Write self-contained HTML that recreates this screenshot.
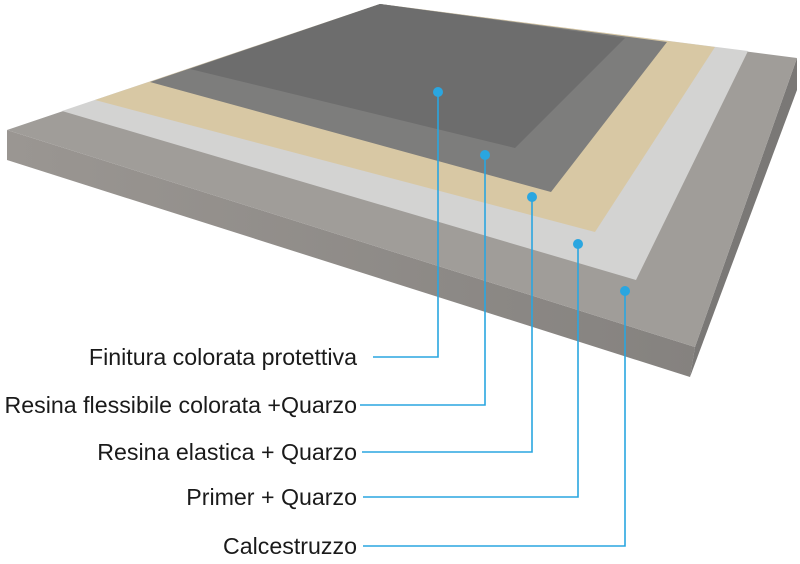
<!DOCTYPE html>
<html><head><style>
body{margin:0;background:#fff;width:800px;height:564px;overflow:hidden;position:relative;font-family:"Liberation Sans",Arial,sans-serif}
.l{position:absolute;right:443px;font-size:23.2px;color:#1a1a1a;white-space:nowrap;line-height:26px}
</style></head><body>
<svg width="800" height="564" style="position:absolute;left:0;top:0">
<defs>
<linearGradient id="fr" x1="0" y1="0" x2="1" y2="0"><stop offset="0" stop-color="#9a9692"/><stop offset="1" stop-color="#85827f"/></linearGradient>
</defs>
<polygon points="7,130 695,347 690,377 7,160" fill="url(#fr)"/>
<polygon points="695,347 797,58 797,90 690,377" fill="#7a7876"/>
<polygon points="7,130 380,4 797,58 695,347" fill="#a09d99"/>
<polygon points="62,111 380,4 748,51 636,280" fill="#d3d3d2"/>
<polygon points="95,100 380,4 715,47 595,232" fill="#d8c8a4"/>
<polygon points="150,82 380,4 667,42 551,192" fill="#7d7d7c"/>
<polygon points="190,69 380,4 625,38 515,148" fill="#6d6d6d"/>
<g stroke="#2aa6e0" stroke-width="1.6" fill="none">
<polyline points="438,92 438,357 373,357"/>
<polyline points="485,155 485,405 360,405"/>
<polyline points="532,197 532,452 362,452"/>
<polyline points="578,244 578,497 363,497"/>
<polyline points="625,291 625,546 363,546"/>
</g>
<g fill="#2aa6e0">
<circle cx="438" cy="92" r="5"/><circle cx="485" cy="155" r="5"/><circle cx="532" cy="197" r="5"/><circle cx="578" cy="244" r="5"/><circle cx="625" cy="291" r="5"/>
</g>
</svg>
<div class="l" style="top:344px">Finitura colorata protettiva</div>
<div class="l" style="top:392px">Resina flessibile colorata +Quarzo</div>
<div class="l" style="top:439px">Resina elastica + Quarzo</div>
<div class="l" style="top:484px">Primer + Quarzo</div>
<div class="l" style="top:533px">Calcestruzzo</div>
</body></html>
